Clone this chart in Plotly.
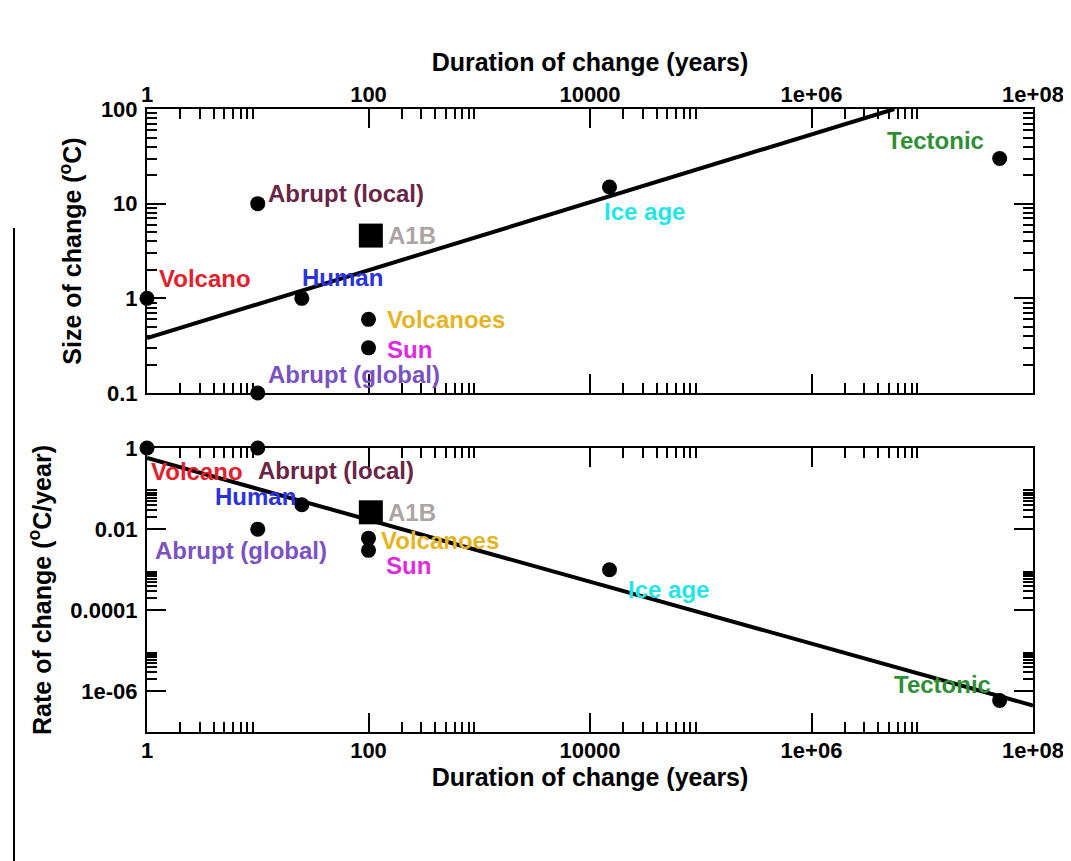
import math
import plotly.graph_objects as go

# ---------------- data ----------------
names = ["Volcano", "Abrupt (local)", "Abrupt (global)", "Human", "Volcanoes",
         "Sun", "Ice age", "Tectonic"]
durations = [1, 10, 10, 25, 100, 100, 1.5e4, 5e7]
size_change = [1, 10, 0.1, 1, 0.6, 0.3, 15, 30]
rate_change = [1, 1, 0.01, 0.04, 0.006, 0.003, 0.001, 6e-7]
label_colors = ["#e3202c", "#6a2444", "#7a52c4", "#2a32e0", "#e6b422",
                "#e02ae0", "#22e6e6", "#2e8f34"]

a1b_name = "A1B"
a1b_duration = [105]
a1b_size = [4.6]
a1b_rate = [0.026]
a1b_color = "#aca4a4"

fit_top_x = [1, 5.6e6]
fit_top_y = [0.38, 100]
fit_bot_x = [1, 1e8]
fit_bot_y = [0.57, 4.5e-7]

x_tickvals = [1, 100, 1e4, 1e6, 1e8]
x_ticktext = ["1", "100", "10000", "1e+06", "1e+08"]
y1_tickvals = [0.1, 1, 10, 100]
y1_ticktext = ["0.1", "1", "10", "100"]
y2_tickvals = [1, 0.01, 0.0001, 1e-6]
y2_ticktext = ["1", "0.01", "0.0001", "1e-06"]

x_minor = [m * b for b in [1, 100, 1e4, 1e6] for m in range(2, 10)]
y1_minor = [m * b for b in [0.1, 1, 10] for m in range(2, 10)]
y2_minor = [m * b for b in [1e-6, 1e-4, 1e-2] for m in range(2, 10)]

# ---------------- label placement (style) ----------------
# (xanchor, xshift, yshift) per point
top_label_pos = [("left", 10, 20), ("left", 8, 10), ("left", 8, 19), ("left", -2, 21),
                 ("left", 16, 0), ("left", 16, -2), ("left", -8, -24), ("right", -14, 18)]
bot_label_pos = [("left", 2, -23), ("left", -2, -22), ("center", -17, -21), ("right", -4, 8),
                 ("left", 10, -2), ("left", 15, -15), ("left", 16, -20), ("right", -7, 16)]
a1b_top_pos = ("left", 15, 0)
a1b_bot_pos = ("left", 15, 0)

FONT = "Liberation Sans, Arial, Helvetica, sans-serif"

fig = go.Figure()

# fit lines
fig.add_trace(go.Scatter(x=fit_top_x, y=fit_top_y, mode="lines",
                         line=dict(color="black", width=4),
                         xaxis="x", yaxis="y", showlegend=False, hoverinfo="skip"))
fig.add_trace(go.Scatter(x=fit_bot_x, y=fit_bot_y, mode="lines",
                         line=dict(color="black", width=4),
                         xaxis="x2", yaxis="y2", showlegend=False, hoverinfo="skip"))

# points
fig.add_trace(go.Scatter(x=durations, y=size_change, mode="markers",
                         marker=dict(color="black", size=15, symbol="circle"),
                         xaxis="x", yaxis="y", showlegend=False, cliponaxis=False,
                         text=names))
fig.add_trace(go.Scatter(x=durations, y=rate_change, mode="markers",
                         marker=dict(color="black", size=15, symbol="circle"),
                         xaxis="x2", yaxis="y2", showlegend=False, cliponaxis=False,
                         text=names))
fig.add_trace(go.Scatter(x=a1b_duration, y=a1b_size, mode="markers",
                         marker=dict(color="black", size=24, symbol="square"),
                         xaxis="x", yaxis="y", showlegend=False, cliponaxis=False))
fig.add_trace(go.Scatter(x=a1b_duration, y=a1b_rate, mode="markers",
                         marker=dict(color="black", size=24, symbol="square"),
                         xaxis="x2", yaxis="y2", showlegend=False, cliponaxis=False))

annotations = []
def add_label(txt, x, y, color, pos, xr, yr):
    xa, xs, ys = pos
    annotations.append(dict(text="<b>" + txt + "</b>", x=math.log10(x), y=math.log10(y),
                            xref=xr, yref=yr, showarrow=False, xanchor=xa, yanchor="middle",
                            xshift=xs, yshift=ys,
                            font=dict(family=FONT, size=24, color=color)))

for i, n in enumerate(names):
    add_label(n, durations[i], size_change[i], label_colors[i], top_label_pos[i], "x", "y")
    add_label(n, durations[i], rate_change[i], label_colors[i], bot_label_pos[i], "x2", "y2")
add_label(a1b_name, a1b_duration[0], a1b_size[0], a1b_color, a1b_top_pos, "x", "y")
add_label(a1b_name, a1b_duration[0], a1b_rate[0], a1b_color, a1b_bot_pos, "x2", "y2")

W, H = 1071, 861
OFF = 8  # page body margin
xdom = [(147 - OFF) / W, (1033 - OFF) / W]
y1dom = [1 - (393 - OFF) / H, 1 - (109 - OFF) / H]
y2dom = [1 - (732 - OFF) / H, 1 - (448 - OFF) / H]

tickfont = dict(family=FONT, size=22, color="black", weight="bold")
titlefont = dict(family=FONT, size=25, color="black", weight="bold")

common = dict(type="log", showgrid=False, zeroline=False, showline=True,
              linecolor="black", linewidth=2, mirror="allticks",
              ticks="inside", ticklen=19, tickwidth=1.5, tickcolor="black",
              tickfont=tickfont, tickmode="array", automargin=False)

def minor(vals):
    return dict(tickmode="array", tickvals=vals, ticks="inside", ticklen=10,
                tickwidth=1.5, tickcolor="black", showgrid=False)

fig.update_layout(
    width=W, height=H, autosize=False,
    margin=dict(l=0, r=0, t=0, b=0, autoexpand=False),
    paper_bgcolor="white", plot_bgcolor="white",
    showlegend=False,
    xaxis=dict(**common, domain=xdom, anchor="y", side="top", range=[0, 8],
               tickvals=x_tickvals, ticktext=x_ticktext, minor=minor(x_minor),
               ticklabelstandoff=-4,
               title=dict(text="Duration of change (years)", font=titlefont, standoff=3)),
    yaxis=dict(**common, domain=y1dom, anchor="x", range=[-1, 2],
               tickvals=y1_tickvals, ticktext=y1_ticktext, minor=minor(y1_minor),
               ticklabelstandoff=3,
               title=dict(text="Size of change (<sup>o</sup>C)", font=titlefont, standoff=12)),
    xaxis2=dict(**common, domain=xdom, anchor="y2", side="bottom", range=[0, 8],
                tickvals=x_tickvals, ticktext=x_ticktext, minor=minor(x_minor),
                ticklabelstandoff=-2,
                title=dict(text="Duration of change (years)", font=titlefont, standoff=6)),
    yaxis2=dict(**common, domain=y2dom, anchor="x2", range=[-7, 0],
                tickvals=y2_tickvals, ticktext=y2_ticktext, minor=minor(y2_minor),
                ticklabelstandoff=3,
                title=dict(text="Rate of change (<sup>o</sup>C/year)", font=titlefont, standoff=12)),
    annotations=annotations,
    shapes=[dict(type="line", xref="paper", yref="paper", x0=(14 - OFF) / W, x1=(14 - OFF) / W,
                 y0=0, y1=1 - (228 - OFF) / H, line=dict(color="black", width=2))],
)

fig.write_html("out.html")
